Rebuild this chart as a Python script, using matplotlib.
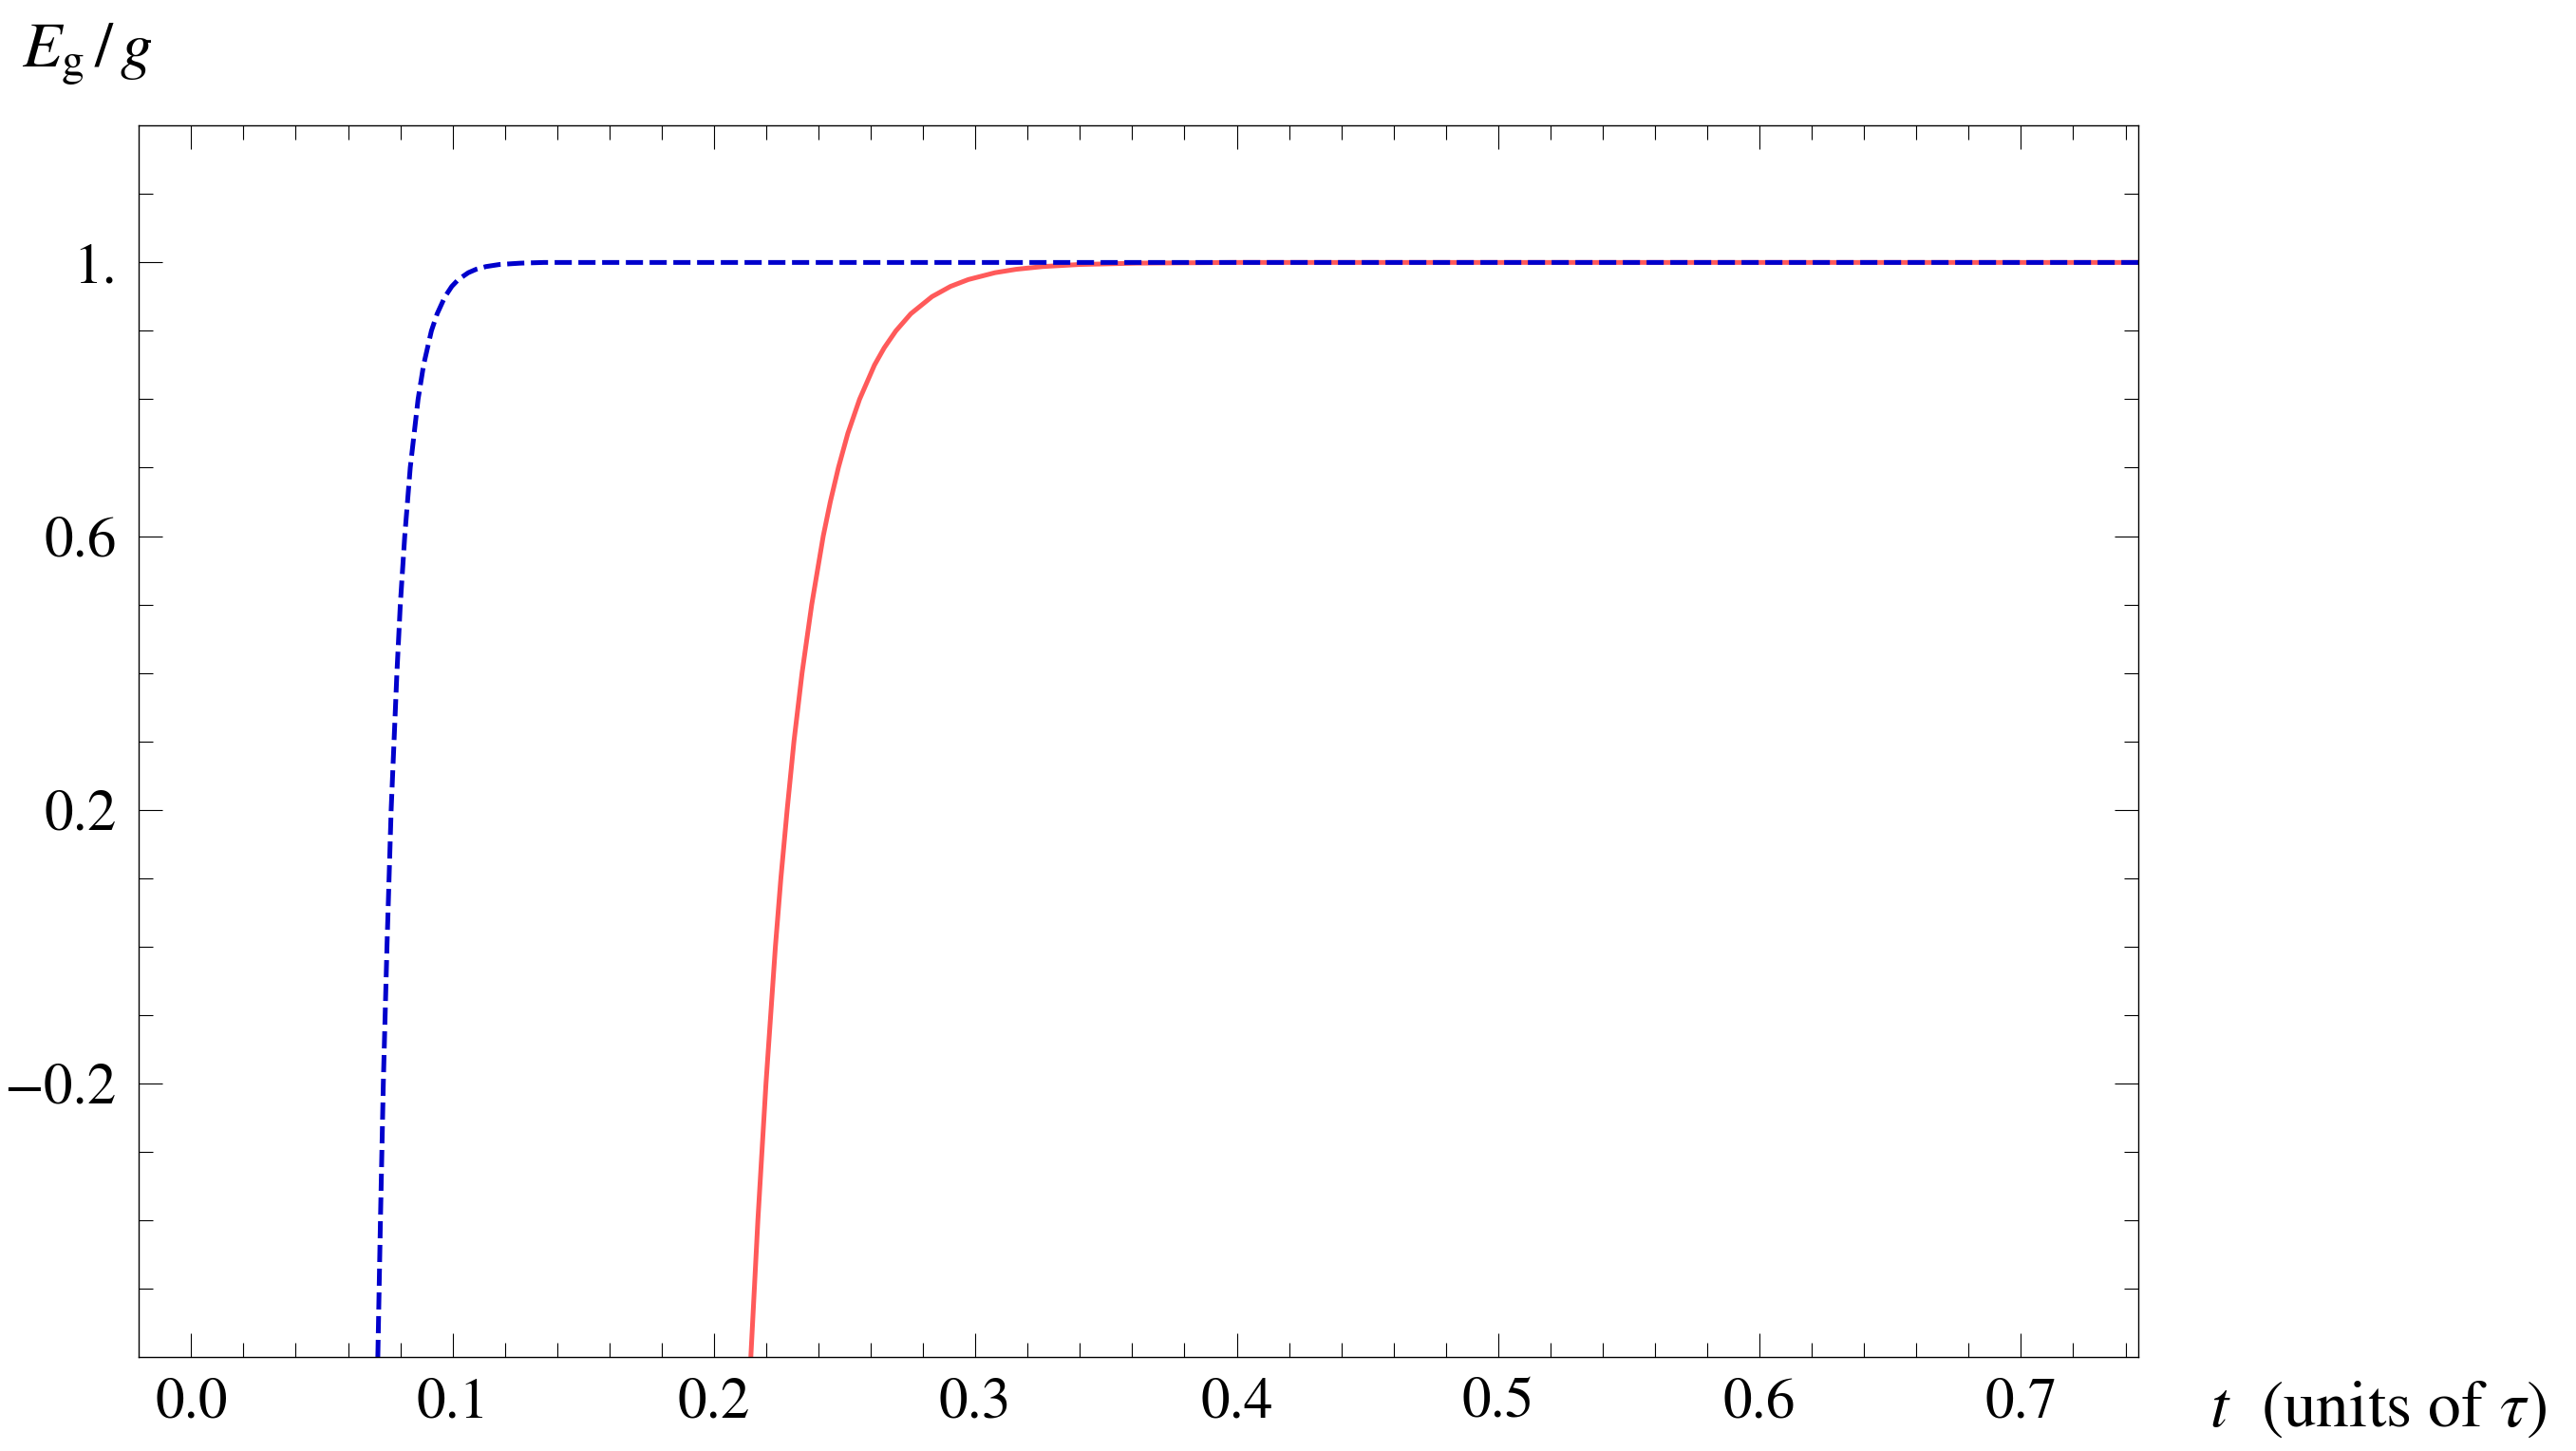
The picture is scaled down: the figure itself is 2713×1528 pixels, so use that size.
import matplotlib
matplotlib.use('Agg')
import matplotlib.pyplot as plt
from matplotlib.ticker import FixedLocator, FixedFormatter

plt.rcParams['font.family'] = 'STIXGeneral'
plt.rcParams['mathtext.fontset'] = 'stix'
plt.rcParams['lines.scale_dashes'] = False

# curva roja (continua)
t_red = [0.2141, 0.2168, 0.2199, 0.2235, 0.2256, 0.2280, 0.2306, 0.2337, 0.2374,
         0.2418, 0.2445, 0.2476, 0.2512, 0.2557, 0.2614, 0.2651, 0.2696, 0.2753,
         0.2834, 0.2905, 0.2973, 0.3075, 0.3156, 0.3258, 0.3397, 0.3617, 0.40, 0.745]
e_red = [-0.6, -0.4, -0.2, 0.0, 0.1, 0.2, 0.3, 0.4, 0.5,
         0.6, 0.65, 0.7, 0.75, 0.8, 0.85, 0.875, 0.9, 0.925,
         0.95, 0.965, 0.975, 0.985, 0.99, 0.994, 0.997, 0.999, 1.0, 1.0]

# curva azul (discontinua)
t_blue = [0.0714, 0.0724, 0.0735, 0.0749, 0.0765, 0.0787, 0.0800, 0.0817, 0.0838,
          0.0868, 0.0889, 0.0919, 0.0941, 0.0971, 0.0997, 0.1022, 0.1060, 0.1090,
          0.1128, 0.1179, 0.1261, 0.135, 0.745]
e_blue = [-0.6, -0.4, -0.2, 0.0, 0.2, 0.4, 0.5, 0.6, 0.7,
          0.8, 0.85, 0.9, 0.925, 0.95, 0.965, 0.975, 0.985, 0.99,
          0.994, 0.997, 0.999, 1.0, 1.0]

x_major = [0.0, 0.1, 0.2, 0.3, 0.4, 0.5, 0.6, 0.7]
x_labels = ['0.0', '0.1', '0.2', '0.3', '0.4', '0.5', '0.6', '0.7']
y_major = [-0.2, 0.2, 0.6, 1.0]
y_labels = ['\u22120.2', '0.2', '0.6', '1.']

W, H = 2713, 1528
fig = plt.figure(figsize=(W / 100, H / 100), dpi=100)
ax = fig.add_axes([146.3 / W, 1 - 1429 / H, (2252.3 - 146.3) / W, (1429 - 132.3) / H])

ax.plot(t_red, e_red, color='#ff5a5a', lw=3.6, solid_capstyle='butt')
ax.plot(t_blue, e_blue, color='#0000cc', lw=3.6, dashes=(13, 5))

ax.set_xlim(-0.02, 0.745)
ax.set_ylim(-0.6, 1.2)

ax.xaxis.set_major_locator(FixedLocator(x_major))
ax.xaxis.set_major_formatter(FixedFormatter(x_labels))
ax.xaxis.set_minor_locator(FixedLocator([i * 0.02 for i in range(0, 38)]))
ax.yaxis.set_major_locator(FixedLocator(y_major))
ax.yaxis.set_major_formatter(FixedFormatter(y_labels))
ax.yaxis.set_minor_locator(FixedLocator([-0.5 + i * 0.1 for i in range(17)]))

ax.tick_params(which='both', direction='in', top=True, right=True, width=0.8, labelsize=44)
ax.tick_params(which='major', length=18)
ax.tick_params(which='minor', length=10.8)
ax.tick_params(axis='x', pad=16)
ax.tick_params(axis='y', pad=17)
for s in ax.spines.values():
    s.set_linewidth(1.0)

fig.text(23 / W, 1 - 70 / H, r'$E_{\rm g}\,/\,g$', fontsize=49, va='baseline', ha='left')
fig.text(2327 / W, 1 - 1502 / H, r'$t$  (units of $\tau$)', fontsize=50, va='baseline', ha='left')

fig.savefig('out.png', dpi=100)
